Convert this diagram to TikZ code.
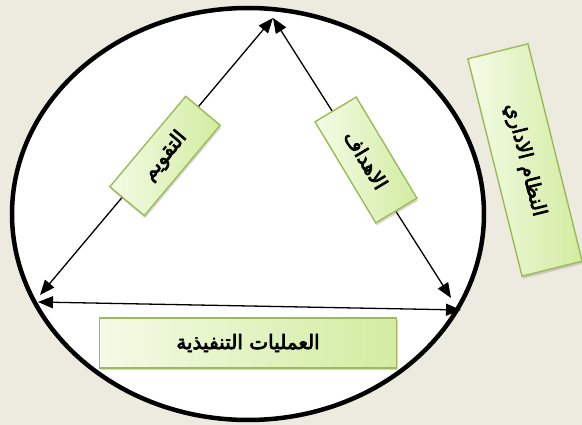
\documentclass[tikz,border=0pt]{standalone}
\usepackage{fontspec}
\newfontfamily\arabicfont[Script=Arabic, FakeBold=3.5]{DejaVu Sans}
\TeXXeTstate=1
\usetikzlibrary{arrows.meta, shadows}

\definecolor{bgbeige}{HTML}{EDEADF}
\definecolor{boxlight}{HTML}{F4FBE6}
\definecolor{boxdark}{HTML}{D2ECA0}
\definecolor{boxedge}{HTML}{9BBB59}

\begin{document}
\begin{tikzpicture}[
  x=1pt, y=-1pt,
  font=\arabicfont\fontsize{20}{22}\selectfont,
  lbl/.style={draw=boxedge, line width=1.4pt, left color=boxlight, right color=boxdark,
              align=center, inner sep=3pt,
              drop shadow={opacity=0.3, shadow xshift=1pt, shadow yshift=-2.5pt}},
  arr/.style={{Triangle[length=15pt,width=12pt]}-{Triangle[length=15pt,width=12pt]}, line width=1.3pt},
]
  \useasboundingbox (0,0) rectangle (582,425);
  \fill[bgbeige] (0,0) rectangle (582,425);

  % outer system circle
  \draw[line width=4.5pt, fill=white] (248,214) ellipse [x radius=236, y radius=206];

  \coordinate (apex)      at (273,18);
  \coordinate (lefttip)   at (40,295);
  \coordinate (leftbase)  at (38,302);
  \coordinate (righttip)  at (451,298);
  \coordinate (rightbase) at (461,310);

  \draw[arr] (lefttip)  -- (apex);
  \draw[arr] (apex)     -- (righttip);
  \draw[arr] (leftbase) -- (rightbase);

  \node[lbl, rotate=50, minimum width=118pt, minimum height=45pt]  (eval)  at (165,156) {\beginR التقويم\endR};
  \node[lbl, rotate=-59, minimum width=118pt, minimum height=48pt] (goals) at (366,160) {\beginR الاهداف\endR};
  \node[lbl, minimum width=297pt, minimum height=50pt]             (ops)   at (248,343) {\beginR العمليات التنفيذية\endR};
  \node[lbl, rotate=-76, minimum width=224pt, minimum height=62pt] (admin) at (525,160) {\beginR النظام الاداري\endR};
\end{tikzpicture}
\end{document}
